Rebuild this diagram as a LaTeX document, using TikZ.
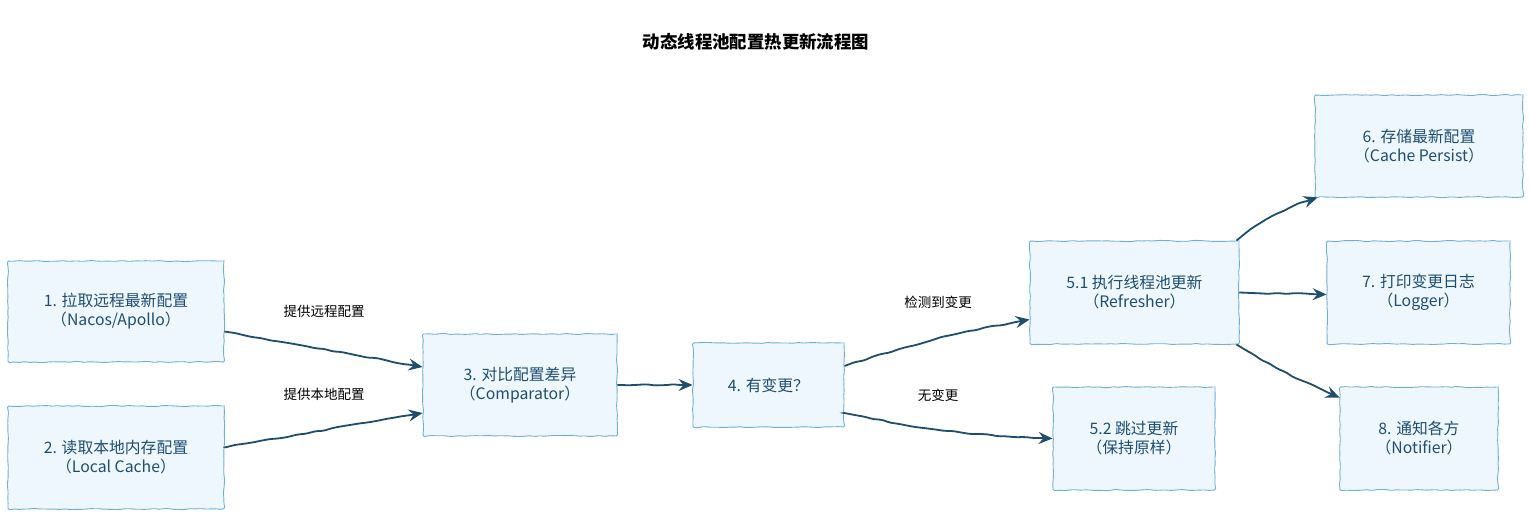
\documentclass[tikz,border=0pt]{standalone}
\usepackage{fontspec}
\setmainfont{Noto Sans CJK SC}
\usepackage{tikz}
\usetikzlibrary{arrows.meta,decorations.pathmorphing}

\definecolor{boxfill}{HTML}{EFF7FE}
\definecolor{boxline}{HTML}{6FAEDB}
\definecolor{boxtext}{HTML}{1D4E72}
\definecolor{flowline}{HTML}{1F4D6D}

\begin{document}
\begin{tikzpicture}[x=1pt,y=-1pt,
  stepbox/.style={draw=boxline,fill=boxfill,line width=0.9pt,text=boxtext,
    align=center,inner sep=0pt,font=\fontsize{15.8}{19}\selectfont,
    decorate,decoration={random steps,segment length=5pt,amplitude=0.6pt},
    rounded corners=1.5pt},
  flow/.style={draw=flowline,line width=1.8pt,
    -{Stealth[length=14pt,width=12pt,inset=5pt]},
    decorate,decoration={random steps,segment length=9pt,amplitude=0.8pt,
      pre length=2pt,post length=13pt},rounded corners=2pt},
  tag/.style={font=\fontsize{13.5}{16}\selectfont}]
\pgfmathsetseed{11}
\useasboundingbox (0,0) rectangle (1529,515);

\node[font=\fontsize{17.4}{20}\selectfont\bfseries] (title) at (756,42) {动态线程池配置热更新流程图};

\node[stepbox,minimum width=216pt,minimum height=101pt] (pull) at (116,311.5) {1. 拉取远程最新配置\\（Nacos/Apollo）};
\node[stepbox,minimum width=216pt,minimum height=103pt] (local) at (116,457.5) {2. 读取本地内存配置\\（Local Cache）};
\node[stepbox,minimum width=194pt,minimum height=102pt] (cmp) at (520,385) {3. 对比配置差异\\（Comparator）};
\node[stepbox,minimum width=151pt,minimum height=84pt] (chg) at (768.5,385) {4. 有变更？};
\node[stepbox,minimum width=209pt,minimum height=103pt] (refresh) at (1134.5,292.5) {5.1 执行线程池更新\\（Refresher）};
\node[stepbox,minimum width=162pt,minimum height=103pt] (skip) at (1134,438.5) {5.2 跳过更新\\（保持原样）};
\node[stepbox,minimum width=208pt,minimum height=102pt] (store) at (1419,146) {6. 存储最新配置\\（Cache Persist）};
\node[stepbox,minimum width=183pt,minimum height=103pt] (log) at (1418.5,292.5) {7. 打印变更日志\\（Logger）};
\node[stepbox,minimum width=158pt,minimum height=103pt] (notify) at (1419,438.5) {8. 通知各方\\（Notifier）};

\node[tag] (remote) at (324,311) {提供远程配置};
\node[tag] (cached) at (324,394) {提供本地配置};
\node[tag] (found) at (938,302) {检测到变更};
\node[tag] (same) at (938,395) {无变更};

\draw[flow] ([yshift=-20pt]pull.east) -- ([yshift=18pt]cmp.west);
\draw[flow] ([yshift=10pt]local.east) -- ([yshift=-28pt]cmp.west);
\draw[flow] (cmp.east) -- (chg.west);
\draw[flow] ([yshift=19pt]chg.east) to[bend left=4] ([yshift=-27pt]refresh.west);
\draw[flow] ([yshift=-28pt]chg.east) to[bend right=5] (skip.west);
\draw[flow] ([xshift=-3pt]refresh.north east) to[bend left=10] ([xshift=3pt]store.south west);
\draw[flow] (refresh.east) -- ([yshift=-2pt]log.west);
\draw[flow] ([xshift=-3pt]refresh.south east) to[bend right=4] ([yshift=-11pt]notify.north west);

\end{tikzpicture}
\end{document}
